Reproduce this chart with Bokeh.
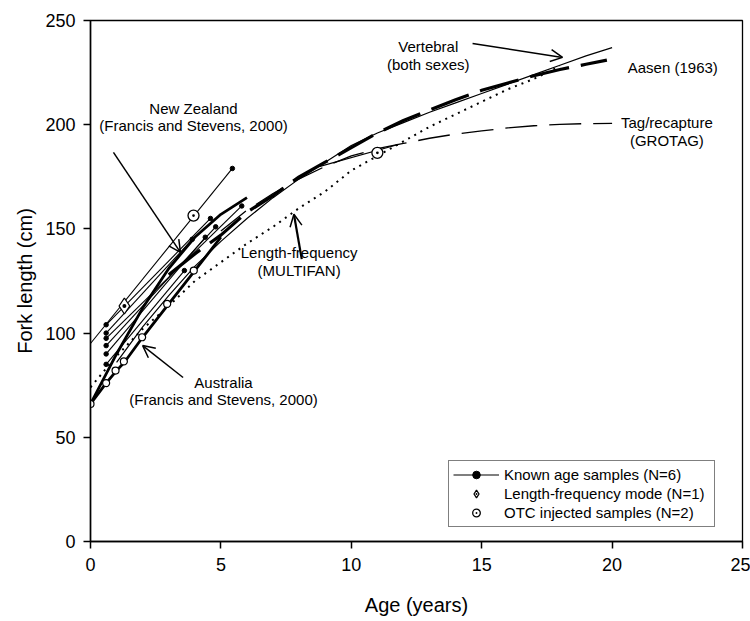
from bokeh.plotting import figure
from bokeh.models import (Range1d, FixedTicker, Arrow, OpenHead, Label, Legend, LegendItem,
                          ColumnDataSource)
from bokeh.embed import file_html
from bokeh.resources import INLINE

FONT = "Liberation Sans"

# ---------------- data ----------------
x_ticks = [0, 5, 10, 15, 20, 25]
y_ticks = [0, 50, 100, 150, 200, 250]

vert_age = [1, 2, 3, 4, 5, 6, 7, 8, 9, 10, 11, 12, 13, 14, 15, 16, 17, 18, 19, 20]
vert_len = [86, 103, 118, 132, 144, 155, 165, 174, 182, 190, 196, 201, 206, 210.5, 215, 219.5, 224, 228.5, 233, 237]

aasen_age = [3, 4, 5, 6, 7, 8, 9, 10, 11, 12, 13, 14, 15, 16, 17, 18, 19, 19.8]
aasen_len = [128, 138, 147, 158, 166, 175, 182, 189, 196, 202, 207, 212, 216.5, 220, 223.5, 226.5, 229, 231]

grotag_age = [5, 6, 7, 8, 9, 10, 11, 12, 13, 14, 15, 16, 17, 18, 19, 20]
grotag_len = [149, 159, 167, 174, 180, 185, 188.5, 191, 193.5, 195.5, 197, 198.5, 199.5, 200.2, 200.5, 200.6]

multifan_age = [0, 1, 2, 3, 4, 5, 6, 7, 8, 9, 10, 11, 12, 13, 14, 15, 16, 17, 18]
multifan_len = [74, 89, 102, 113, 125, 134, 143, 151, 160, 168, 178, 185, 192, 199, 205, 211, 217, 222, 228]

aus_age = [0, 0.6, 1, 1.3, 2, 3, 4, 5]
aus_len = [66, 76, 82, 86, 98, 114, 130, 146]
aus_pt_age = [0, 0.6, 0.96, 1.28, 1.98, 2.94, 3.96]
aus_pt_len = [66, 76, 82, 86.4, 98, 114, 130]

nz_age = [0, 1, 2, 3, 4, 5, 6]
nz_len = [66, 90, 112, 131, 146, 157, 165]

known_start_age = [0.6, 0.6, 0.6, 0.6, 0.6, 0.6]
known_start_len = [104, 100, 97.5, 94, 90, 85]
known_end_age = [4.6, 3.9, 5.8, 4.8, 4.4, 3.6]
known_end_len = [155, 145, 161, 151, 146, 130]

otc_line_age = [[0, 5.44], [8.8, 11.8]]
otc_line_len = [[95, 179], [180, 190.5]]
otc_end_age = [5.44]
otc_end_len = [179]
otc_age = [3.95, 11.0]
otc_len = [156.4, 186.5]

lfmode_age = [1.3]
lfmode_len = [113]

# ---------------- figure ----------------
p = figure(width=750, height=621, output_backend="svg", toolbar_location=None,
           x_range=Range1d(0, 25), y_range=Range1d(0, 250),
           min_border_left=90, min_border_right=8, min_border_top=20, min_border_bottom=80)
p.xgrid.visible = False
p.ygrid.visible = False
p.outline_line_color = "black"
p.outline_line_width = 1.3
p.background_fill_color = "white"

for ax, ticks in ((p.xaxis[0], x_ticks), (p.yaxis[0], y_ticks)):
    ax.ticker = FixedTicker(ticks=ticks)
    ax.minor_tick_line_color = None
    ax.axis_line_width = 1.5
    ax.axis_line_color = "black"
    ax.major_tick_line_width = 1.5
    ax.major_tick_line_color = "black"
    ax.major_tick_out = 7
    ax.major_tick_in = 0
    ax.major_label_text_font = FONT
    ax.major_label_text_font_size = "18px"
    ax.major_label_text_color = "black"
    ax.axis_label_text_font = FONT
    ax.axis_label_text_font_size = "20px"
    ax.axis_label_text_font_style = "normal"
    ax.axis_label_text_color = "black"

p.xaxis.axis_label = "Age (years)"
p.yaxis.axis_label = "Fork length (cm)"
p.xaxis.major_label_standoff = 9
p.xaxis.axis_label_standoff = 20
p.yaxis.major_label_standoff = 8
p.yaxis.axis_label_standoff = 6

# curves
p.line(multifan_age, multifan_len, line_color="black", line_width=2, line_dash="2 5")
p.line(vert_age, vert_len, line_color="black", line_width=1.2)
p.line(grotag_age, grotag_len, line_color="black", line_width=1.3, line_dash="32 12")
p.line(aasen_age, aasen_len, line_color="black", line_width=3.2, line_dash="40 12")
p.line(nz_age, nz_len, line_color="black", line_width=2.8)
p.line(aus_age, aus_len, line_color="black", line_width=2.8)
p.scatter(aus_pt_age, aus_pt_len, marker="circle", size=7, fill_color="white",
          line_color="black", line_width=1.2)

# known age samples
ks = ColumnDataSource(dict(
    xs=[[a, b] for a, b in zip(known_start_age, known_end_age)],
    ys=[[a, b] for a, b in zip(known_start_len, known_end_len)]))
known_lines = p.multi_line("xs", "ys", source=ks, line_color="black", line_width=1.1)
known_dots = p.scatter(known_start_age + known_end_age, known_start_len + known_end_len,
                       marker="circle", size=4.5, fill_color="black", line_color="black")

# OTC / length-frequency mode lines and markers
p.multi_line(otc_line_age, otc_line_len, line_color="black", line_width=1.1)
p.scatter(otc_end_age, otc_end_len, marker="circle", size=4.5, fill_color="black", line_color="black")
lf_r = p.scatter(lfmode_age, lfmode_len, marker="diamond_dot", size=16, fill_color="white",
                 line_color="black", line_width=1.3)
otc_r = p.scatter(otc_age, otc_len, marker="circle_dot", size=11, fill_color="white",
                  line_color="black", line_width=1.3)

# annotations
def txt(x, y, s, align="center"):
    p.add_layout(Label(x=x, y=y, text=s, text_font=FONT, text_font_size="15px",
                       text_align=align, text_baseline="middle", text_color="black"))

txt(3.95, 208, "New Zealand")
txt(3.95, 199.5, "(Francis and Stevens, 2000)")
txt(12.95, 237.5, "Vertebral")
txt(12.95, 229, "(both sexes)")
txt(20.6, 227.5, "Aasen (1963)", align="left")
txt(22.1, 201, "Tag/recapture")
txt(22.1, 192.5, "(GROTAG)")
txt(8.0, 138.5, "Length-frequency")
txt(8.0, 130, "(MULTIFAN)")
txt(5.1, 76.5, "Australia")
txt(5.1, 68, "(Francis and Stevens, 2000)")

arrow_from_x = [0.88, 14.65, 8.1, 3.55]
arrow_from_y = [186.7, 239.0, 135.5, 78.7]
arrow_to_x = [3.45, 18.1, 7.8, 2.0]
arrow_to_y = [138.7, 232.3, 157.0, 94.0]
arrow_w = [1.5, 1.5, 2.2, 1.5]
for x0, y0, x1, y1, w in zip(arrow_from_x, arrow_from_y, arrow_to_x, arrow_to_y, arrow_w):
    p.add_layout(Arrow(x_start=x0, y_start=y0, x_end=x1, y_end=y1, line_width=w,
                       line_color="black",
                       end=OpenHead(size=12, line_width=1.5, line_color="black")))

legend = Legend(items=[
    LegendItem(label="Known age samples (N=6)", renderers=[known_lines, known_dots]),
    LegendItem(label="Length-frequency mode (N=1)", renderers=[lf_r]),
    LegendItem(label="OTC injected samples (N=2)", renderers=[otc_r]),
], location=(358, 14), border_line_color="black", border_line_width=1.3,
    background_fill_color="white", background_fill_alpha=1.0,
    label_text_font=FONT, label_text_font_size="15px", label_text_color="black",
    glyph_width=46, glyph_height=19, label_height=19, label_width=206, label_standoff=5,
    spacing=0, padding=4, margin=0)
p.add_layout(legend, "center")

open("out.html", "w").write(file_html(p, INLINE))
